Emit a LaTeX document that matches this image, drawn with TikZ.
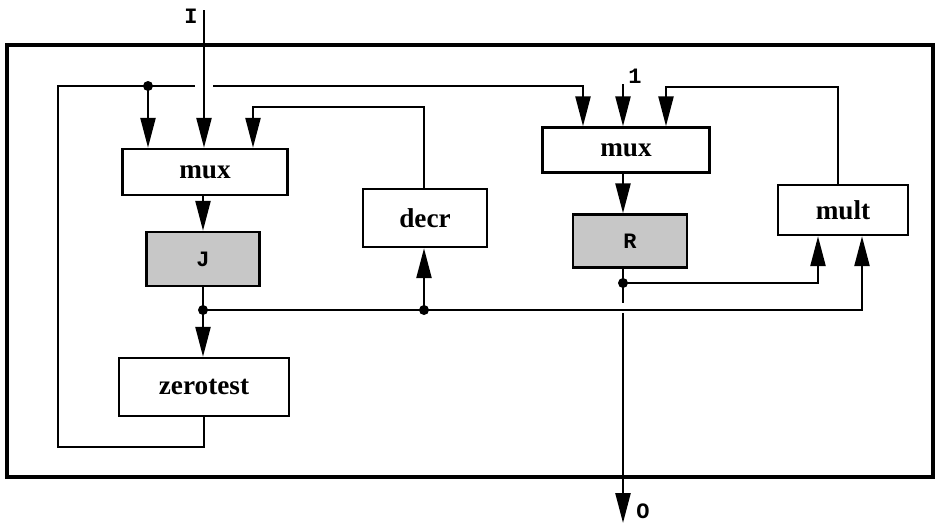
\documentclass[tikz,border=0pt]{standalone}
\usepackage{fontspec}
\setmainfont{Liberation Serif}
\setmonofont{Liberation Mono}
\usetikzlibrary{arrows.meta}

\begin{document}
\begin{tikzpicture}[
  x=0.02cm, y=-0.02cm,
  >={Triangle[length=0.6cm, width=0.3cm]},
  line width=1.4pt,
  base/.style={draw, line width=1.4pt, inner sep=0pt, font=\fontsize{15.5}{18}\selectfont\bfseries},
  blk/.style={base, fill=white},
  reg/.style={base, fill=black!22, font=\fontsize{12.5}{14}\selectfont\ttfamily\bfseries},
  sig/.style={inner sep=1pt, font=\fontsize{12.5}{14}\selectfont\ttfamily\bfseries},
  dot/.style={circle, fill, inner sep=0pt, minimum size=0.2cm},
]
  \useasboundingbox (0,0) rectangle (939,525);
  \draw[line width=2.8pt] (7,45) rectangle (933,477);

  % blocks
  \node[blk, minimum width=3.3cm, minimum height=0.92cm] (mux1) at (205,172) {mux};
  \node[reg, minimum width=2.26cm, minimum height=1.08cm] (regj) at (203,259) {J};
  \node[blk, minimum width=3.4cm, minimum height=1.16cm] (zero) at (204,387) {zerotest};
  \node[blk, minimum width=2.48cm, minimum height=1.16cm] (decr) at (425,218) {decr};
  \node[blk, minimum width=3.34cm, minimum height=0.9cm] (mux2) at (626,150) {mux};
  \node[reg, minimum width=2.28cm, minimum height=1.06cm] (regr) at (630,241) {R};
  \node[blk, minimum width=2.6cm, minimum height=1.0cm] (mult) at (843,210) {mult};

  % signal names
  \node[sig] (lbli) at (191,16) {I};
  \node[sig] (lblone) at (635,76) {1};
  \node[sig] (lblo) at (643,511) {O};

  \coordinate (in) at (204,10);
  \coordinate (one) at (623,84);
  \coordinate (out) at (623,523);
  \coordinate (tap) at (148,86);
  \coordinate (jtap) at (203,310);
  \coordinate (dtap) at (424,310);
  \coordinate (rtap) at (623,283);
  \coordinate (gapl) at (195,86);
  \coordinate (gapr) at (213,86);
  \coordinate (rgap1) at (623,303);
  \coordinate (rgap2) at (623,313);
  \coordinate (fbl) at (58,447);
  \coordinate (fbt) at (58,86);
  \coordinate (m2a) at (583,86);
  \coordinate (m1c) at (253,107);
  \coordinate (mb) at (862,310);
  \coordinate (ma) at (818,283);
  \coordinate (fbm) at (838,87);
  \coordinate (m2c) at (666,87);

  \node[dot] (dtop) at (tap) {};
  \node[dot] (dj) at (jtap) {};
  \node[dot] (dd) at (dtap) {};
  \node[dot] (dr) at (rtap) {};

  \draw[->] (in) -- (in |- mux1.north);
  \draw (zero.south) |- (fbl) -- (fbt) -- (gapl);
  \draw[->] (gapr) -- (m2a) -- (m2a |- mux2.north);
  \draw[->] (tap) -- (tap |- mux1.north);
  \draw[->] (decr.north -| dtap) |- (m1c) -- (m1c |- mux1.north);
  \draw[->] (mux1.south -| jtap) -- (regj.north -| jtap);
  \draw (regj.south -| jtap) -- (jtap);
  \draw[->] (jtap) -- (jtap |- zero.north);
  \draw (jtap) -- (dtap);
  \draw[->] (dtap) -- (dtap |- decr.south);
  \draw[->] (dtap) -- (mb) -- (mb |- mult.south);
  \draw[->] (one) -- (one |- mux2.north);
  \draw[->] (mux2.south -| one) -- (regr.north -| one);
  \draw (regr.south -| one) -- (rtap) -- (rgap1);
  \draw[->] (rgap2) -- (out);
  \draw[->] (rtap) -- (ma) -- (ma |- mult.south);
  \draw[->] (fbm |- mult.north) -- (fbm) -- (m2c) -- (m2c |- mux2.north);
\end{tikzpicture}
\end{document}
